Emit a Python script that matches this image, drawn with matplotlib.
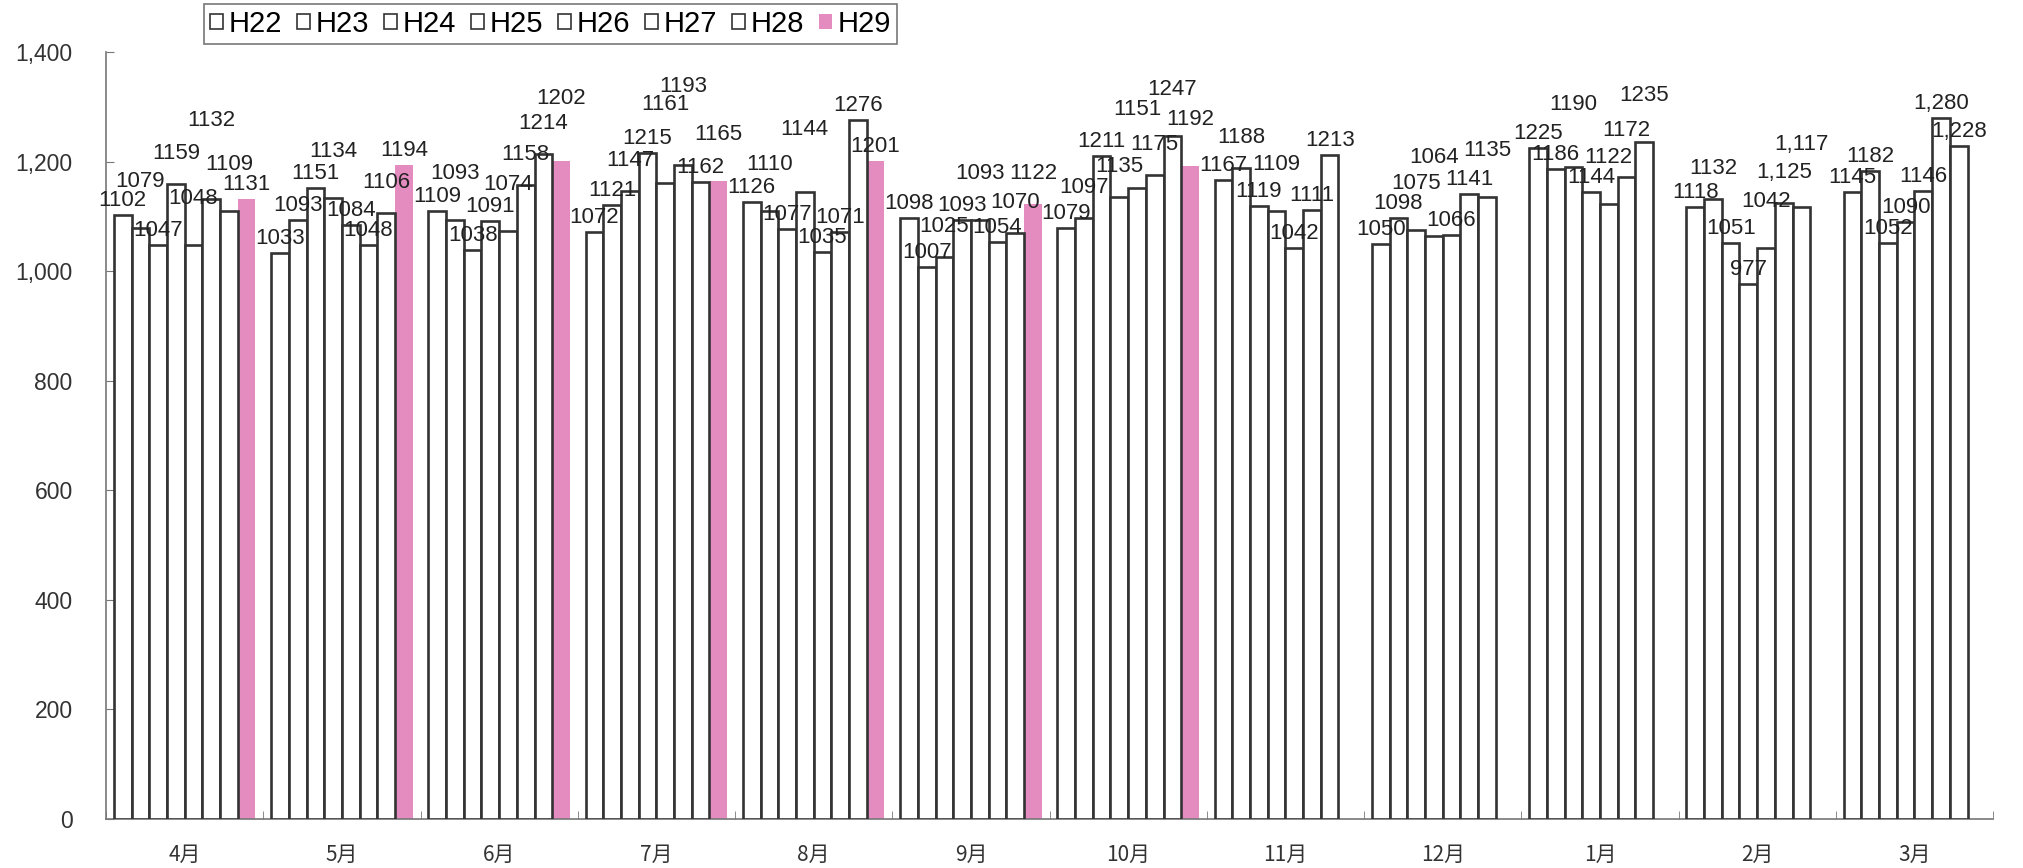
import numpy as np
import matplotlib
matplotlib.use('Agg')
import matplotlib.pyplot as plt
from matplotlib.patches import Patch
from matplotlib import font_manager

plt.rcParams['font.family'] = ['Liberation Sans', 'Noto Sans CJK JP', 'DejaVu Sans']

# data
months = ['4月', '5月', '6月', '7月', '8月', '9月', '10月', '11月', '12月', '1月', '2月', '3月']
series_names = ['H22', 'H23', 'H24', 'H25', 'H26', 'H27', 'H28', 'H29']

h22 = [1102, 1033, 1109, 1072, 1126, 1098, 1079, 1167, 1050, 1225, 1118, 1145]
h23 = [1079, 1093, 1093, 1121, 1110, 1007, 1097, 1188, 1098, 1186, 1132, 1182]
h24 = [1047, 1151, 1038, 1147, 1077, 1025, 1211, 1119, 1075, 1190, 1051, 1052]
h25 = [1159, 1134, 1091, 1215, 1144, 1093, 1135, 1109, 1064, 1144, 977, 1090]
h26 = [1048, 1084, 1074, 1161, 1035, 1093, 1151, 1042, 1066, 1122, 1042, 1146]
h27 = [1132, 1048, 1158, 1193, 1071, 1054, 1175, 1111, 1141, 1172, 1125, 1280]
h28 = [1109, 1106, 1214, 1162, 1276, 1070, 1247, 1213, 1135, 1235, 1117, 1228]
h29 = [1131, 1194, 1202, 1165, 1201, 1122, 1192, None, None, None, None, None]

# labels that the source printed with a thousands separator (month idx, series idx)
comma_labels = {(10, 5), (10, 6), (11, 5), (11, 6)}

yticks = [0, 200, 400, 600, 800, 1000, 1200, 1400]

all_series = [h22, h23, h24, h25, h26, h27, h28, h29]
pink = '#e48cc0'
edge = '#333333'

names = {f.name for f in font_manager.fontManager.ttflist}
num_font = ['Liberation Sans Narrow'] if 'Liberation Sans Narrow' in names else ['Liberation Sans']

fig = plt.figure(figsize=(20.23, 8.68), dpi=100)
ax = fig.add_axes([0.0524, 0.0565, 0.9328, 0.8835])

x = np.arange(len(months))
n = len(all_series)
group_w = 0.90
w = group_w / n

ax.set_xlim(-0.5, len(months) - 0.5)
ax.set_ylim(0, 1400)

labels = []
for s_idx, vals in enumerate(all_series):
    xs = x - group_w / 2 + w * (s_idx + 0.5)
    for m_idx, v in enumerate(vals):
        if v is None:
            continue
        if s_idx == n - 1:
            ax.bar(xs[m_idx], v, width=w, color=pink, edgecolor='none', zorder=2)
        else:
            ax.bar(xs[m_idx], v, width=w, facecolor='white', edgecolor=edge,
                   linewidth=1.9, zorder=3)
        txt = f'{v:,}' if (m_idx, s_idx) in comma_labels else f'{v}'
        t = ax.annotate(txt, (xs[m_idx], v), xytext=(0, 4), textcoords='offset pixels',
                        ha='center', va='bottom', fontsize=16, family=num_font,
                        color='#222222', zorder=5)
        labels.append((m_idx, s_idx, t))

# push labels up step by step so that neighbours within a month overlap less
renderer = fig.canvas.get_renderer()
steps = [4, 20, 36, 52, 68]
placed = []
for m_idx, s_idx, t in sorted(labels, key=lambda r: (r[0], r[1])):
    best, best_cost = steps[0], None
    for off in steps:
        t.xyann = (0, off)
        bb = t.get_window_extent(renderer).expanded(1.0, 0.9)
        cost = 0.0
        for pm, pb in placed:
            if pm != m_idx:
                continue
            ix = min(bb.x1, pb.x1) - max(bb.x0, pb.x0)
            iy = min(bb.y1, pb.y1) - max(bb.y0, pb.y0)
            if ix > 0 and iy > 0:
                cost += ix * iy
        if best_cost is None or cost < best_cost - 1:
            best, best_cost = off, cost
        if cost == 0:
            break
    t.xyann = (0, best)
    placed.append((m_idx, t.get_window_extent(renderer).expanded(1.0, 0.9)))

ax.set_yticks(yticks)
ax.set_yticklabels([f'{t:,}' for t in yticks], fontsize=16.5, color='#333333')
ax.set_xticks(x)
ax.set_xticklabels(months, fontsize=15, color='#333333',
                   family=['Noto Sans CJK JP', 'DejaVu Sans'])
ax.set_xticks(np.arange(len(months) + 1) - 0.5, minor=True)

ax.tick_params(axis='x', which='major', length=0, pad=18)
ax.tick_params(axis='x', which='minor', direction='in', length=6, color='#777777')
ax.tick_params(axis='y', direction='in', length=6, color='#777777', pad=24)

for side in ['top', 'right']:
    ax.spines[side].set_visible(False)
for side in ['left', 'bottom']:
    ax.spines[side].set_color('#777777')
    ax.spines[side].set_linewidth(1.2)

handles = [Patch(facecolor='white', edgecolor=edge, linewidth=1.2) for _ in series_names[:-1]]
handles.append(Patch(facecolor=pink, edgecolor='none'))
leg = fig.legend(handles, series_names, loc='upper left', bbox_to_anchor=(204 / 2023, 1 - 4 / 868),
                 ncol=8, prop={'family': num_font, 'size': 21}, frameon=True, fancybox=False,
                 handlelength=0.45, handleheight=0.45, handletextpad=0.2, columnspacing=0.5,
                 borderpad=0.2, borderaxespad=0)
leg.get_frame().set_edgecolor('#555555')
leg.get_frame().set_linewidth(1.2)

fig.savefig('out.png', dpi=100)
